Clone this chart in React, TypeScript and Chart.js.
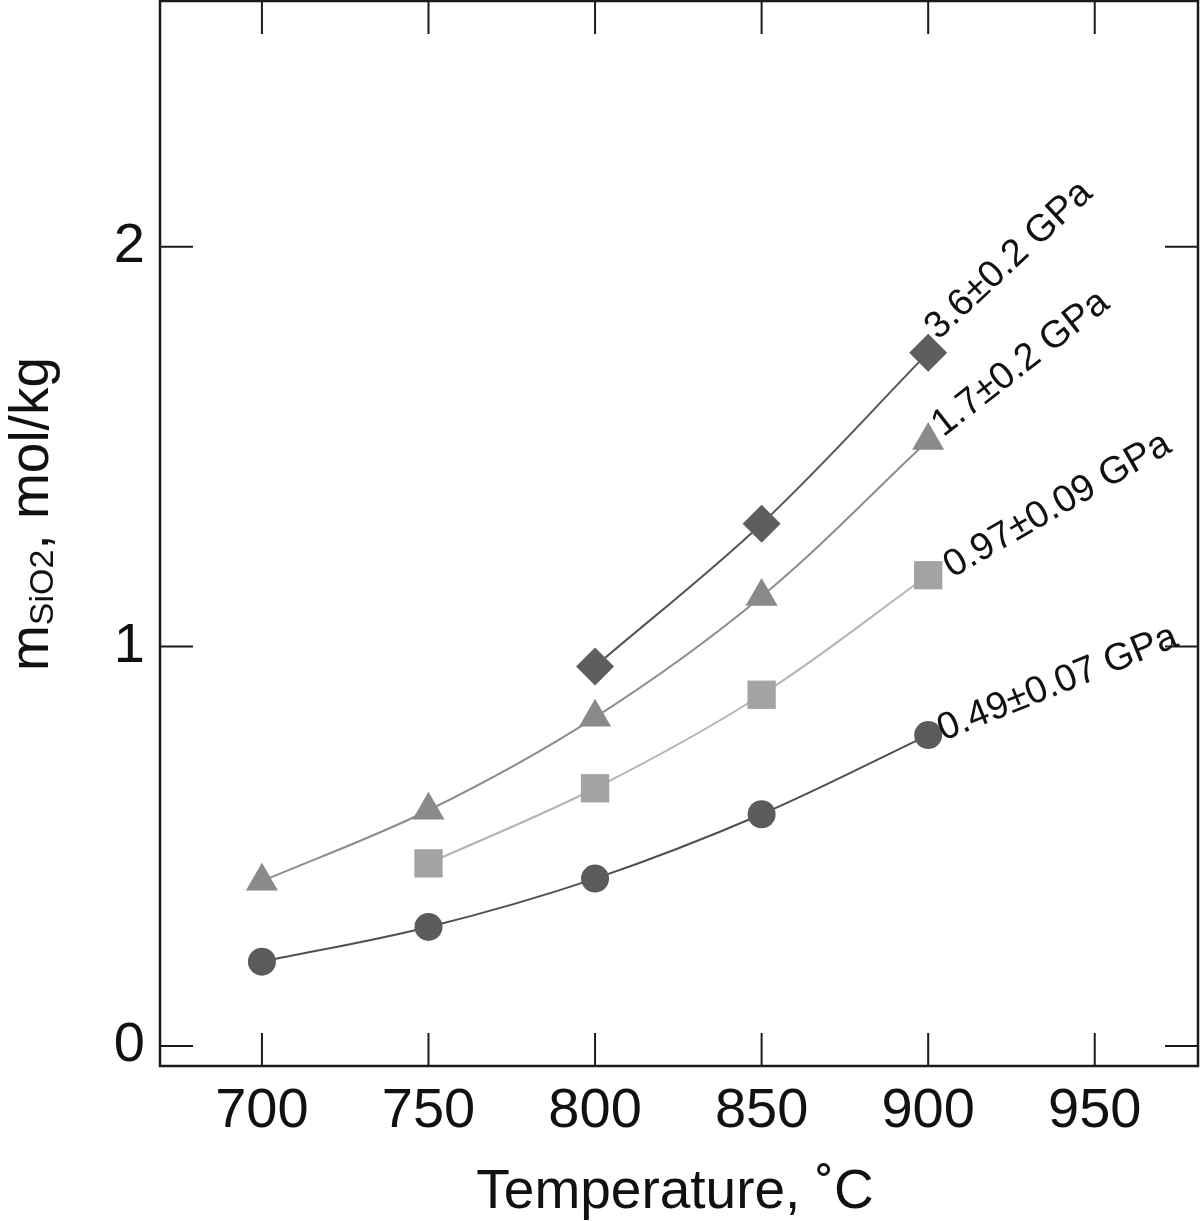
import React, { useEffect, useRef } from "react";
import { Chart, registerables } from "chart.js";

Chart.register(...registerables);

const temperatures = [700, 750, 800, 850, 900];
const seriesLabels = ["0.49±0.07 GPa", "0.97±0.09 GPa", "1.7±0.2 GPa", "3.6±0.2 GPa"];
const m049 = [0.211, 0.298, 0.419, 0.58, 0.778];
const m097 = [null, 0.457, 0.645, 0.879, 1.178];
const m17 = [0.4125, 0.59, 0.8225, 1.125, 1.515];
const m36 = [null, null, 0.95, 1.307, 1.735];
const xTicks = [700, 750, 800, 850, 900, 950];
const yTicks = [0, 1, 2];

const FONT = "'Liberation Sans', Arial, Helvetica, sans-serif";

const toPoints = (vals: (number | null)[]) =>
  temperatures
    .map((t, i) => ({ x: t, y: vals[i] }))
    .filter((p) => p.y !== null) as { x: number; y: number }[];

const seriesStyles = [
  { point: "circle", radius: 14, fill: "#5b5b5b", line: "#505050" },
  { point: "rect", radius: 20, fill: "#a3a3a3", line: "#b4b4b4" },
  { point: "triangle", radius: 18.5, fill: "#8a8a8a", line: "#8c8c8c" },
  { point: "rectRot", radius: 19, fill: "#5e5e5e", line: "#555555" },
];
const labelOffsets = [
  { dx: 15, dy: 6, angle: 22 },
  { dx: 24, dy: 3, angle: 30 },
  { dx: 15, dy: -3, angle: 38 },
  { dx: 10, dy: -12, angle: 43 },
];

const zeroPad = (s: any) => {
  s.paddingTop = 0;
  s.paddingBottom = 0;
  s.paddingLeft = 0;
  s.paddingRight = 0;
};

const decor = {
  id: "decor",
  afterDraw(chart: any) {
    const { ctx, chartArea: a } = chart;
    const xs = chart.scales.x;
    const ys = chart.scales.y;
    ctx.save();
    ctx.strokeStyle = "#1a1a1a";
    ctx.lineWidth = 2.5;
    ctx.strokeRect(a.left, a.top, a.right - a.left, a.bottom - a.top);
    ctx.lineWidth = 2;
    const seg = (x1: number, y1: number, x2: number, y2: number) => {
      ctx.beginPath();
      ctx.moveTo(x1, y1);
      ctx.lineTo(x2, y2);
      ctx.stroke();
    };
    xTicks.forEach((v) => {
      const px = xs.getPixelForValue(v);
      seg(px, a.bottom, px, a.bottom - 33);
      seg(px, a.top, px, a.top + 33);
    });
    yTicks.forEach((v) => {
      const py = ys.getPixelForValue(v);
      seg(a.left, py, a.left + 33, py);
      seg(a.right, py, a.right - 33, py);
    });

    // series labels
    ctx.fillStyle = "#111";
    ctx.font = `38px ${FONT}`;
    ctx.textAlign = "left";
    ctx.textBaseline = "alphabetic";
    chart.data.datasets.forEach((ds: any, i: number) => {
      const meta = chart.getDatasetMeta(i);
      const last = meta.data[meta.data.length - 1];
      const o = labelOffsets[i];
      ctx.save();
      ctx.translate(last.x + o.dx, last.y + o.dy);
      ctx.rotate((-o.angle * Math.PI) / 180);
      ctx.fillText(seriesLabels[i], 0, 0);
      ctx.restore();
    });

    // x title
    ctx.font = `55px ${FONT}`;
    ctx.textAlign = "center";
    ctx.fillText("Temperature, ˚C", (a.left + a.right) / 2 - 4, a.bottom + 142);

    // y title with subscript
    const mainF = `55px ${FONT}`;
    const subF = `34px ${FONT}`;
    ctx.font = mainF;
    const w1 = ctx.measureText("m").width;
    const w3 = ctx.measureText(", mol/kg").width;
    ctx.font = subF;
    const w2 = ctx.measureText("SiO2").width;
    const total = w1 + w2 + w3;
    ctx.save();
    ctx.translate(48, 514);
    ctx.rotate(-Math.PI / 2);
    ctx.textAlign = "left";
    let cx = -total / 2;
    ctx.font = mainF;
    ctx.fillText("m", cx, 0);
    cx += w1;
    ctx.font = subF;
    ctx.fillText("SiO2", cx, 5);
    cx += w2;
    ctx.font = mainF;
    ctx.fillText(", mol/kg", cx, 0);
    ctx.restore();
    ctx.restore();
  },
};

export default function App() {
  const ref = useRef<HTMLCanvasElement>(null);
  useEffect(() => {
    if (!ref.current) return;
    const allSeries = [m049, m097, m17, m36];
    const chart = new Chart(ref.current, {
      type: "line",
      data: {
        datasets: allSeries.map((vals, i) => ({
          label: seriesLabels[i],
          data: toPoints(vals),
          borderColor: seriesStyles[i].line,
          borderWidth: 2,
          backgroundColor: seriesStyles[i].fill,
          pointBackgroundColor: seriesStyles[i].fill,
          pointBorderColor: seriesStyles[i].fill,
          pointBorderWidth: 0,
          pointStyle: seriesStyles[i].point as any,
          pointRadius: seriesStyles[i].radius,
          tension: 0.35,
          fill: false,
        })),
      },
      options: {
        responsive: false,
        animation: false,
        layout: { autoPadding: false, padding: { top: 1, right: 2, left: 0, bottom: 0 } },
        plugins: { legend: { display: false }, tooltip: { enabled: false } },
        scales: {
          x: {
            type: "linear",
            min: 669.4,
            max: 981,
            afterBuildTicks: (s: any) => {
              s.ticks = xTicks.map((v) => ({ value: v }));
            },
            afterFit: (s: any) => {
              s.height = 155;
              zeroPad(s);
            },
            grid: { display: false, drawTicks: false },
            border: { display: false },
            ticks: {
              font: { family: FONT, size: 56 },
              color: "#111",
              padding: 12,
              maxRotation: 0,
            },
          },
          y: {
            type: "linear",
            min: -0.05,
            max: 2.615,
            afterBuildTicks: (s: any) => {
              s.ticks = yTicks.map((v) => ({ value: v }));
            },
            afterFit: (s: any) => {
              s.width = 160;
              zeroPad(s);
            },
            grid: { display: false, drawTicks: false },
            border: { display: false },
            ticks: {
              font: { family: FONT, size: 56 },
              color: "#111",
              padding: 15,
            },
          },
        },
      },
      plugins: [decor],
    });
    return () => chart.destroy();
  }, []);
  return (
    <div style={{ position: "absolute", left: 0, top: 0, width: 1200, height: 1221, background: "#fff" }}>
      <canvas ref={ref} width={1200} height={1221} />
    </div>
  );
}
